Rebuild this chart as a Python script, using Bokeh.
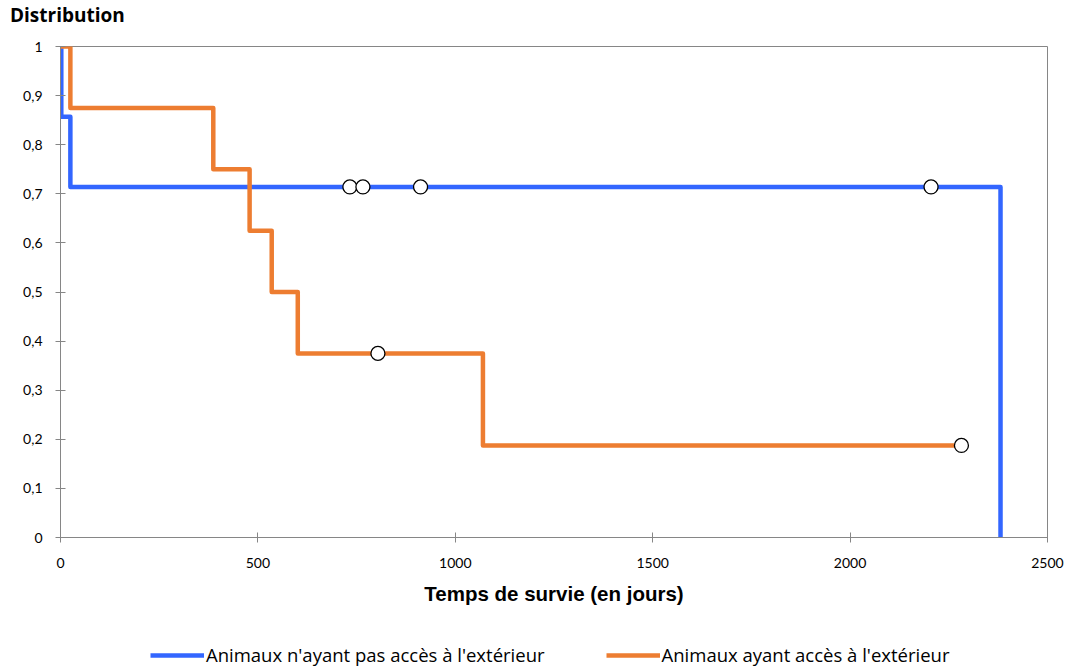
from bokeh.plotting import figure
from bokeh.models import Range1d, FixedTicker, Legend, LegendItem, Div
from bokeh.layouts import column
from bokeh.embed import file_html
from bokeh.resources import INLINE

# Data
indoor_t = [0, 2, 25, 2381]
indoor_s = [1.0, 0.857, 0.714, 0.0]
indoor_cens_t = [733, 766, 912, 2205]
indoor_cens_s = [0.714, 0.714, 0.714, 0.714]

outdoor_t = [0, 25, 387, 479, 535, 601, 1070, 2282]
outdoor_s = [1.0, 0.875, 0.75, 0.625, 0.5, 0.375, 0.1875, 0.1875]
outdoor_cens_t = [804, 2282]
outdoor_cens_s = [0.375, 0.1875]

x_ticks = [0, 500, 1000, 1500, 2000, 2500]
y_ticks = [0, 0.1, 0.2, 0.3, 0.4, 0.5, 0.6, 0.7, 0.8, 0.9, 1.0]
y_labels = ["0", "0,1", "0,2", "0,3", "0,4", "0,5", "0,6", "0,7", "0,8", "0,9", "1"]

title_text = "Distribution"
label_indoor = "Animaux n'ayant pas accès à l'extérieur"
label_outdoor = "Animaux ayant accès à l'extérieur"

BLUE = "#3366FF"
ORANGE = "#ED7D31"
GRAY = "#868686"
FONT = "Lato"
W = 1065

head = Div(text=title_text, width=300, height=28, margin=(2, 0, 0, 10),
           styles={"font-family": "Open Sans", "font-weight": "bold",
                   "font-size": "19px", "line-height": "26px", "color": "#000000"})

p = figure(width=W, height=612 - 30, output_backend="svg", toolbar_location=None,
           x_range=Range1d(0, 2500), y_range=Range1d(0, 1),
           min_border_left=60, min_border_right=W - 1047, min_border_top=16,
           min_border_bottom=612 - 537)
p.title.visible = False

p.xgrid.visible = False
p.ygrid.visible = False
p.outline_line_color = GRAY
p.outline_line_width = 1

for ax in (p.xaxis[0], p.yaxis[0]):
    ax.axis_line_color = GRAY
    ax.major_tick_line_color = GRAY
    ax.minor_tick_line_color = None
    ax.major_tick_in = 5
    ax.major_tick_out = 5
    ax.major_label_text_font = FONT
    ax.major_label_text_font_size = "14px"
    ax.major_label_text_color = "#000000"

p.xaxis[0].ticker = FixedTicker(ticks=x_ticks)
p.xaxis[0].major_label_standoff = 15
p.xaxis[0].axis_label = "Temps de survie (en jours)"
p.xaxis[0].axis_label_text_font = "Liberation Sans"
p.xaxis[0].axis_label_text_font_style = "bold"
p.xaxis[0].axis_label_text_font_size = "20.5px"
p.xaxis[0].axis_label_standoff = 11
p.xaxis[0].axis_label_text_color = "#000000"

p.yaxis[0].ticker = FixedTicker(ticks=y_ticks)
p.yaxis[0].major_label_overrides = {t: l for t, l in zip(y_ticks, y_labels)}
p.yaxis[0].major_label_standoff = 13

p.step(indoor_t, indoor_s, mode="after", line_color=BLUE, line_width=4.5, line_join="round")
p.step(outdoor_t, outdoor_s, mode="after", line_color=ORANGE, line_width=4.5, line_join="round")
p.scatter(indoor_cens_t, indoor_cens_s, size=14, fill_color="white", line_color="black", line_width=1.3)
p.scatter(outdoor_cens_t, outdoor_cens_s, size=14, fill_color="white", line_color="black", line_width=1.3)

# Legend strip below the chart (keys drawn off-range so only the legend shows)
lg = figure(width=W, height=56, output_backend="svg", toolbar_location=None,
            x_range=Range1d(0, 1), y_range=Range1d(0, 1),
            x_axis_location=None, y_axis_location=None,
            min_border_left=60, min_border_right=W - 1047, min_border_top=0, min_border_bottom=0)
lg.grid.visible = False
lg.outline_line_color = None
k1 = lg.line([-5, -4], [-5, -5], line_color=BLUE, line_width=4.5)
k2 = lg.line([-5, -4], [-5, -5], line_color=ORANGE, line_width=4.5)
legend = Legend(items=[LegendItem(label=label_indoor, renderers=[k1]),
                       LegendItem(label=label_outdoor, renderers=[k2])],
                orientation="horizontal", location=(90, 1),
                glyph_width=54, glyph_height=18, label_standoff=2, spacing=61,
                label_text_font="Open Sans", label_text_font_size="18.5px",
                label_text_color="#000000", label_height=18,
                border_line_color=None, background_fill_alpha=0,
                padding=0, margin=0)
lg.add_layout(legend)

layout = column(head, p, lg, spacing=0)
open("out.html", "w").write(file_html(layout, INLINE))
